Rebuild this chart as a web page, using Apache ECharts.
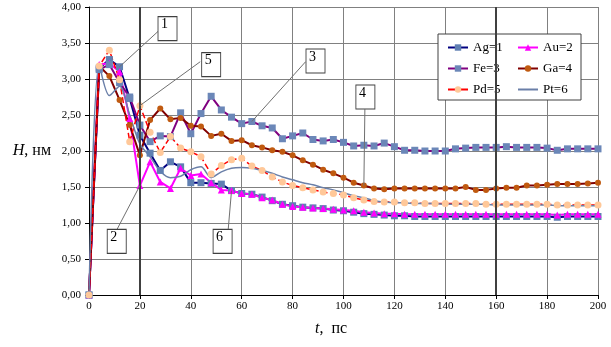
<!DOCTYPE html>
<html><head><meta charset="utf-8">
<script src="https://cdn.jsdelivr.net/npm/echarts@6/dist/echarts.min.js"></script>
<style>html,body{margin:0;padding:0;background:#fff}#c{width:611px;height:347px}</style>
</head><body><div id="c"></div>
<script>
const times = [0,4,8,12,16,20,24,28,32,36,40,44,48,52,56,60,64,68,72,76,80,84,88,92,96,100,104,108,112,116,120,124,128,132,136,140,144,148,152,156,160,164,168,172,176,180,184,188,192,196,200];
const ag = [0,3.15,3.27,3.17,2.73,2.22,1.97,1.73,1.85,1.78,1.56,1.56,1.55,1.54,1.45,1.41,1.40,1.36,1.31,1.26,1.24,1.22,1.21,1.20,1.18,1.17,1.15,1.13,1.12,1.11,1.10,1.10,1.09,1.09,1.09,1.09,1.09,1.09,1.09,1.09,1.09,1.09,1.09,1.09,1.09,1.09,1.08,1.09,1.09,1.09,1.09];
const au = [0,3.20,3.22,3.10,2.45,1.52,1.85,1.57,1.48,1.76,1.66,1.68,1.56,1.46,1.45,1.41,1.40,1.35,1.32,1.26,1.23,1.22,1.21,1.20,1.19,1.18,1.17,1.15,1.14,1.13,1.13,1.12,1.12,1.12,1.12,1.12,1.12,1.12,1.12,1.12,1.12,1.12,1.12,1.12,1.12,1.12,1.11,1.12,1.12,1.12,1.12];
const fe = [0,3.13,3.20,2.95,2.75,2.36,2.13,2.21,2.20,2.53,2.24,2.52,2.76,2.57,2.47,2.38,2.41,2.35,2.32,2.17,2.21,2.25,2.16,2.14,2.16,2.12,2.07,2.08,2.07,2.11,2.06,2.01,2.01,2.00,2.00,2.00,2.03,2.04,2.05,2.05,2.05,2.06,2.05,2.05,2.05,2.04,2.01,2.03,2.03,2.03,2.03];
const ga = [0,3.18,3.04,2.71,2.36,1.94,2.43,2.59,2.44,2.46,2.35,2.34,2.21,2.24,2.14,2.15,2.08,2.05,2.01,1.99,1.94,1.87,1.81,1.74,1.69,1.63,1.56,1.52,1.48,1.47,1.48,1.48,1.48,1.48,1.48,1.48,1.48,1.50,1.46,1.46,1.48,1.49,1.49,1.52,1.52,1.53,1.54,1.54,1.54,1.55,1.56];
const pd = [0,3.18,3.40,2.99,2.13,2.63,2.26,1.98,2.20,2.04,1.99,1.92,1.68,1.80,1.88,1.90,1.79,1.73,1.64,1.57,1.52,1.49,1.46,1.43,1.41,1.39,1.35,1.32,1.30,1.29,1.29,1.28,1.28,1.27,1.27,1.27,1.27,1.27,1.27,1.26,1.26,1.26,1.26,1.26,1.26,1.26,1.25,1.25,1.25,1.25,1.25];
const pt = [0,3.20,2.77,2.90,2.50,2.10,1.92,1.72,1.63,1.65,1.74,1.78,1.63,1.71,1.76,1.77,1.76,1.73,1.69,1.64,1.60,1.56,1.53,1.49,1.46,1.42,1.38,1.35,1.31,1.29,1.28,1.28,1.27,1.27,1.27,1.26,1.26,1.26,1.26,1.26,1.25,1.25,1.25,1.25,1.25,1.25,1.24,1.24,1.24,1.24,1.24];
const seriesNames = ['Ag=1','Au=2','Fe=3','Ga=4','Pd=5','Pt=6'];
const boldGridX = [20, 160];
// annotation callouts: label, box centre (data coords), leader start (data coords), target series/index
const annotLabels = ['1','2','3','4','5','6'];
const annotBox = [[30.85,3.70],[10.9,0.745],[89.0,3.25],[108.6,2.75],[48.0,3.20],[52.5,0.745]];
const annotFrom = [[27.1,3.66],[11.0,0.91],[85.1,3.24],[108.4,2.58],[43.7,3.24],[54.7,0.91]];
const annotTarget = [[ag,3],[au,5],[fe,16],[ga,27],[pd,5],[ag,14]];

const pairs = arr => times.map((t,i)=>[t,arr[i]]);
const serif = 'Liberation Serif';
const chart = echarts.init(document.getElementById('c'));

const mk = (name, arr, line, lineType, width, symbol, mcolor, msize, smooth) => ({
  name, type:'line', data: pairs(arr), smooth: smooth||false,
  symbol, symbolSize: msize, showSymbol: symbol!=='none',
  lineStyle:{color:line, width, type:lineType},
  itemStyle:{color:mcolor, borderColor:mcolor, borderWidth:0},
  animation:false, z:3
});

const series = [
  mk(seriesNames[0], ag, '#000080','solid',2,'rect','#5f7fb2',7),
  mk(seriesNames[1], au, '#ff00ff','solid',2,'triangle','#ff00ff',7),
  mk(seriesNames[2], fe, '#800080','solid',2,'rect','#6b87b8',7),
  mk(seriesNames[3], ga, '#800000','solid',2,'circle','#c05a10',6),
  mk(seriesNames[4], pd, '#ff0000','dashed',1.5,'circle','#ffc899',7),
  mk(seriesNames[5], pt, '#6a7fa8','solid',1.5,'none','#6a7fa8',1,0.3),
  {
    name:'annot', type:'scatter', data:[], animation:false, silent:true, z:5,
    markLine:{
      silent:true, symbol:['none','none'], animation:false,
      label:{show:false},
      lineStyle:{color:'#707070', width:1, type:'solid'},
      data: [
        ...boldGridX.map(x=>[{coord:[x,0], lineStyle:{color:'#404040',width:2}},{coord:[x,4]}]),
        ...annotFrom.map((f,i)=>[{coord:f},{coord:[times[annotTarget[i][1]], annotTarget[i][0][annotTarget[i][1]]]}])
      ]
    },
    markPoint:{
      silent:true, animation:false, symbol:'rect', symbolSize:[19,24],
      itemStyle:{color:'#fff', borderColor:'#404040', borderWidth:1},
      label:{show:true, color:'#000', fontFamily:serif, fontSize:14, offset:[-3,-4], formatter:p=>p.name},
      data: annotLabels.map((l,i)=>({name:l, coord:annotBox[i]}))
    }
  }
];

chart.setOption({
  animation:false,
  backgroundColor:'#fff',
  grid:{left:89, right:13, top:7, bottom:52},
  legend:{
    data: seriesNames.map(n => n==='Pt=6' ? {name:n, itemStyle:{opacity:0}} : n),
    left:438, top:34, width:135, orient:'horizontal',
    backgroundColor:'#fff', borderColor:'#404040', borderWidth:1,
    padding:[7,2,4,9], itemGap:8, itemWidth:20, itemHeight:8,
    textStyle:{fontFamily:serif, fontSize:13, color:'#000', width:36, lineHeight:11}
  },
  xAxis:{
    type:'value', min:0, max:200, interval:20,
    name:'{i|t},  пс', nameLocation:'middle', nameGap:26,
    nameTextStyle:{fontFamily:serif, fontSize:16, color:'#000', padding:[0,25,0,0],
      rich:{i:{fontFamily:serif, fontStyle:'italic', fontSize:16, color:'#000'}}},
    axisLine:{lineStyle:{color:'#000', width:1}},
    axisTick:{show:true, length:4, lineStyle:{color:'#000'}},
    axisLabel:{fontFamily:serif, fontSize:11, color:'#000', margin:6},
    splitLine:{show:true, lineStyle:{color:'#808080', width:1}}
  },
  yAxis:{
    type:'value', min:0, max:4, interval:0.5,
    name:'{i|H}, нм', nameLocation:'middle', nameRotate:0, nameGap:38,
    nameTextStyle:{fontFamily:serif, fontSize:16, color:'#000',
      rich:{i:{fontFamily:serif, fontStyle:'italic', fontSize:16, color:'#000'}}},
    axisLine:{show:true, lineStyle:{color:'#000', width:1}},
    axisTick:{show:true, length:4, lineStyle:{color:'#000'}},
    axisLabel:{fontFamily:serif, fontSize:11, color:'#000', margin:8,
      formatter:v=>v.toFixed(2).replace('.',',')},
    splitLine:{show:true, lineStyle:{color:'#808080', width:1}}
  },
  series
});
</script></body></html>
